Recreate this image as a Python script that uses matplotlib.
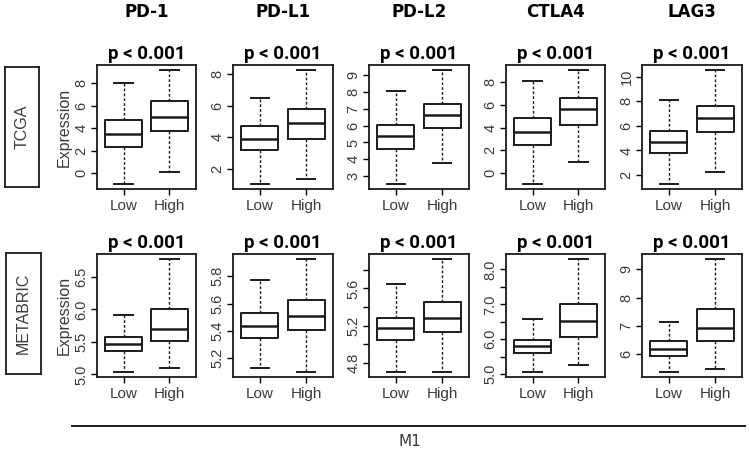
import matplotlib.pyplot as plt
from matplotlib.lines import Line2D

plt.rcParams['font.family'] = ['Liberation Sans', 'DejaVu Sans']

genes = ["PD-1", "PD-L1", "PD-L2", "CTLA4", "LAG3"]
cohorts = ["TCGA", "METABRIC"]
groups = ["Low", "High"]
pvalue = "p < 0.001"
xlabel = "M1"

# box summaries: [whisker low, q1, median, q3, whisker high]
tcga_low = [[-1.0, 2.33, 3.46, 4.72, 8.0],
            [1.0, 3.21, 3.9, 4.68, 6.48],
            [2.5, 4.6, 5.4, 6.04, 8.04],
            [-1.0, 2.45, 3.57, 4.81, 8.1],
            [1.24, 3.78, 4.68, 5.6, 8.1]]
tcga_high = [[0.1, 3.76, 5.01, 6.42, 9.19],
             [1.32, 3.91, 4.89, 5.79, 8.28],
             [3.8, 5.88, 6.62, 7.3, 9.34],
             [0.94, 4.25, 5.63, 6.6, 9.09],
             [2.24, 5.48, 6.6, 7.63, 10.57]]
metabric_low = [[5.03, 5.36, 5.47, 5.58, 5.92],
                [5.13, 5.347, 5.44, 5.533, 5.77],
                [4.70, 5.05, 5.175, 5.285, 5.65],
                [5.05, 5.62, 5.80, 5.99, 6.57],
                [5.35, 5.94, 6.19, 6.45, 7.12]]
metabric_high = [[5.10, 5.51, 5.70, 6.01, 6.78],
                 [5.097, 5.406, 5.508, 5.624, 5.93],
                 [4.71, 5.13, 5.285, 5.45, 5.92],
                 [5.27, 6.07, 6.53, 7.0, 8.31],
                 [5.46, 6.45, 6.94, 7.6, 9.38]]

# y ticks and the labels R kept (blank = tick without label)
tcga_ticks = [[0, 2, 4, 6, 8], [2, 4, 6, 8], [3, 4, 5, 6, 7, 8, 9],
              [0, 2, 4, 6, 8], [2, 4, 6, 8, 10]]
tcga_ticklabels = [["0", "2", "4", "6", "8"], ["2", "4", "6", "8"],
                   ["3", "4", "5", "6", "7", "8", "9"],
                   ["0", "2", "4", "6", "8"], ["2", "4", "6", "8", "10"]]
metabric_ticks = [[5.0, 5.5, 6.0, 6.5], [5.2, 5.4, 5.6, 5.8],
                  [4.8, 5.0, 5.2, 5.4, 5.6, 5.8],
                  [5.0, 5.5, 6.0, 6.5, 7.0, 7.5, 8.0], [6, 7, 8, 9]]
metabric_ticklabels = [["5.0", "5.5", "6.0", "6.5"], ["5.2", "5.4", "5.6", "5.8"],
                       ["4.8", "", "5.2", "", "5.6", ""],
                       ["5.0", "", "6.0", "", "7.0", "", "8.0"],
                       ["6", "7", "8", "9"]]

W, H = 749, 454
fig = plt.figure(figsize=(W / 100, H / 100), dpi=100)


def px_axes(x0, y0, x1, y1):
    return fig.add_axes([x0 / W, 1 - y1 / H, (x1 - x0) / W, (y1 - y0) / H])


col_x = [(97, 196), (233, 333), (369, 469), (506, 605), (642, 742)]
row_y = [(65, 189), (254, 377)]
label_box = [(5, 67, 39, 187), (6, 253, 41, 374)]

rows = [(tcga_low, tcga_high, tcga_ticks, tcga_ticklabels),
        (metabric_low, metabric_high, metabric_ticks, metabric_ticklabels)]

ink = '#1a1a1a'
grey = '#3a3a3a'

for r, (lows, highs, ticks, tlabels) in enumerate(rows):
    for c in range(len(genes)):
        ax = px_axes(col_x[c][0], row_y[r][0], col_x[c][1], row_y[r][1])
        stats = []
        for g, s in zip(groups, [lows[c], highs[c]]):
            stats.append(dict(label=g, whislo=s[0], q1=s[1], med=s[2], q3=s[3], whishi=s[4]))
        ax.bxp(stats, positions=[1, 2], widths=0.8, capwidths=0.4, showfliers=False,
               boxprops=dict(color=ink, lw=1.4),
               whiskerprops=dict(color=ink, lw=1.0, ls=(0, (2, 1.5))),
               capprops=dict(color=ink, lw=1.4),
               medianprops=dict(color=ink, lw=1.8))
        lo = min(lows[c][0], highs[c][0])
        hi = max(lows[c][4], highs[c][4])
        pad = 0.04 * (hi - lo)
        ax.set_ylim(lo - pad, hi + pad)
        ax.set_xlim(0.42, 2.58)
        ax.set_yticks(ticks[c])
        ax.set_yticklabels(tlabels[c])
        ax.tick_params(axis='y', labelrotation=90, direction='out', length=4,
                       width=1.0, labelsize=10.5, labelcolor=grey, pad=2)
        ax.tick_params(axis='x', direction='out', length=4, width=1.0,
                       labelsize=11, labelcolor=grey, pad=3)
        for lab in ax.get_yticklabels():
            lab.set_va('center')
        for sp in ax.spines.values():
            sp.set_linewidth(1.3)
            sp.set_color(ink)
        ax.set_title(pvalue, fontsize=13.5, fontweight='bold', pad=4,
                     family=['Roboto', 'DejaVu Sans'])
        if c == 0:
            ax.set_ylabel('Expression', fontsize=11.5, color=grey, labelpad=2)
        if r == 0:
            fig.text((col_x[c][0] + col_x[c][1]) / 2 / W, 1 - 12 / H, genes[c],
                     ha='center', va='center', fontsize=12, fontweight='bold',
                     family=['Liberation Sans Narrow', 'DejaVu Sans'])

    # cohort label in a frame
    x0, y0, x1, y1 = label_box[r]
    lab_ax = px_axes(x0, y0, x1, y1)
    lab_ax.set_xticks([])
    lab_ax.set_yticks([])
    for sp in lab_ax.spines.values():
        sp.set_linewidth(1.3)
        sp.set_color(ink)
    lab_ax.text(0.5, 0.5, cohorts[r], rotation=90, ha='center', va='center',
                fontsize=11.5, color=grey, transform=lab_ax.transAxes)

fig.add_artist(Line2D([72 / W, 745 / W], [1 - 426 / H, 1 - 426 / H],
                      color=ink, lw=1.4, transform=fig.transFigure))
fig.text(410 / W, 1 - 441 / H, xlabel, ha='center', va='center', fontsize=11,
         color=grey, family=['Liberation Sans Narrow', 'DejaVu Sans'])

fig.savefig('out.png', dpi=100)
